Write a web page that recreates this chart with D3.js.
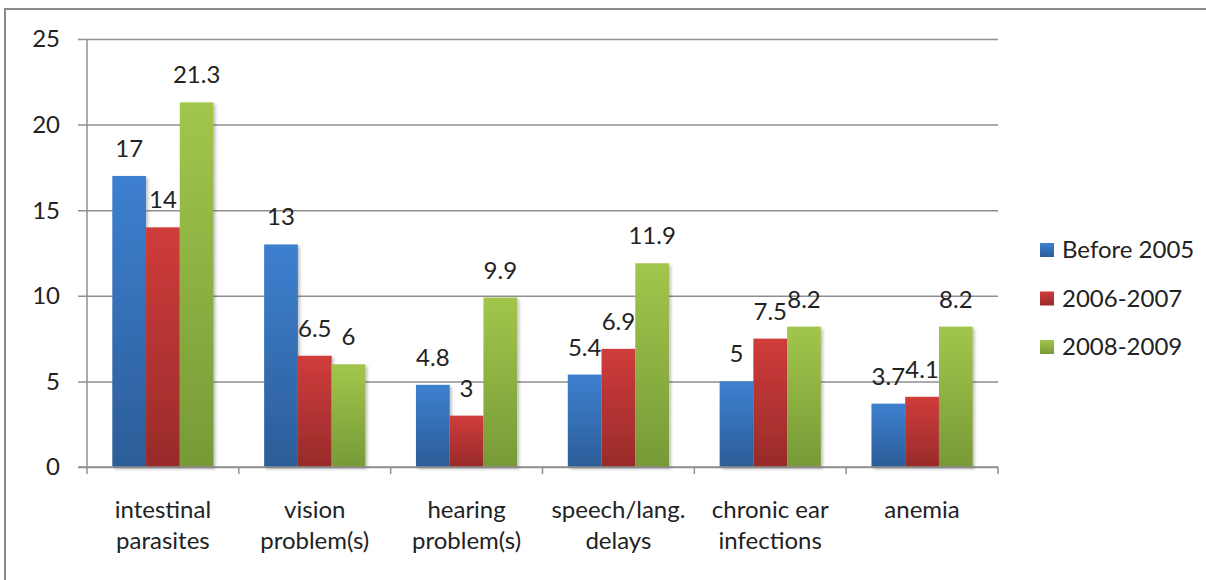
<!DOCTYPE html>
<html>
<head>
<meta charset="utf-8">
<script src="https://cdn.jsdelivr.net/npm/d3@7"></script>
<style>
  html, body { margin: 0; padding: 0; background: #fff; }
  svg { display: block; font-family: Lato, "Open Sans", sans-serif; }
</style>
</head>
<body>
<svg id="chart" width="1206" height="580"></svg>
<script>
// Health conditions by arrival period
const categories = [
  ["intestinal", "parasites"],
  ["vision", "problem(s)"],
  ["hearing", "problem(s)"],
  ["speech/lang.", "delays"],
  ["chronic ear", "infections"],
  ["anemia"]
];
const seriesNames = ["Before 2005", "2006-2007", "2008-2009"];
const before2005 = [17, 13, 4.8, 5.4, 5, 3.7];
const y2006_2007 = [14, 6.5, 3, 6.9, 7.5, 4.1];
const y2008_2009 = [21.3, 6, 9.9, 11.9, 8.2, 8.2];
const yTicks = [0, 5, 10, 15, 20, 25];

const seriesValues = [before2005, y2006_2007, y2008_2009];
const colorsTop = ["#3d80d0", "#d03c3b", "#a2c64c"];
const colorsBottom = ["#2c5d98", "#982b2a", "#779a37"];

const svg = d3.select("#chart");
const defs = svg.append("defs");

seriesNames.forEach((s, i) => {
  const g = defs.append("linearGradient")
    .attr("id", "grad" + i).attr("x1", 0).attr("y1", 0).attr("x2", 0).attr("y2", 1);
  g.append("stop").attr("offset", "0%").attr("stop-color", colorsTop[i]);
  g.append("stop").attr("offset", "100%").attr("stop-color", colorsBottom[i]);
});

const shadow = defs.append("filter").attr("id", "shadow")
  .attr("x", "-20%").attr("y", "-5%").attr("width", "150%").attr("height", "115%");
shadow.append("feDropShadow").attr("dx", 2).attr("dy", 2).attr("stdDeviation", 1.5)
  .attr("flood-color", "#000").attr("flood-opacity", 0.25);

// outer frame
svg.append("path")
  .attr("d", "M5,580 V9 H1206")
  .attr("fill", "none").attr("stroke", "#8a8a8a").attr("stroke-width", 2);

const plot = { left: 87, right: 998, top: 39, bottom: 467 };

const x = d3.scaleBand().domain(d3.range(categories.length))
  .range([plot.left, plot.right]).paddingInner(0).paddingOuter(0);
const x1 = d3.scaleBand().domain(d3.range(seriesNames.length))
  .range([0, x.bandwidth()]).paddingInner(0).paddingOuter(0.75);
const y = d3.scaleLinear().domain([0, 25]).range([plot.bottom, plot.top]);

const fontSize = 24;
const textColor = "#222";

// gridlines
const yAxis = d3.axisLeft(y).tickValues(yTicks).tickSize(9).tickFormat("");
const gy = svg.append("g").attr("transform", `translate(${plot.left},0)`).call(yAxis);
gy.select(".domain").remove();
gy.selectAll(".tick line").attr("stroke", "#8f8f8f").attr("stroke-width", 1.5)
  .attr("x2", plot.right - plot.left).attr("x1", -9);

// y tick labels
svg.append("g").selectAll("text").data(yTicks).join("text")
  .attr("x", 60).attr("y", d => y(d)).attr("dy", "0.35em")
  .attr("text-anchor", "end").attr("font-size", fontSize).attr("fill", textColor)
  .text(d => d);

// vertical axis line
svg.append("line").attr("x1", plot.left).attr("x2", plot.left)
  .attr("y1", plot.top).attr("y2", plot.bottom)
  .attr("stroke", "#8f8f8f").attr("stroke-width", 1.5);

// bars
const groups = svg.append("g").selectAll("g").data(categories).join("g")
  .attr("transform", (d, i) => `translate(${x(i)},0)`);

groups.selectAll("rect").data((d, i) => seriesValues.map((vals, s) => ({ s, v: vals[i] })))
  .join("rect")
  .attr("x", d => x1(d.s))
  .attr("y", d => y(d.v))
  .attr("width", x1.bandwidth())
  .attr("height", d => y(0) - y(d.v))
  .attr("fill", d => `url(#grad${d.s})`)
  .attr("filter", "url(#shadow)");

// baseline and category ticks
svg.append("line").attr("x1", plot.left - 9).attr("x2", plot.right)
  .attr("y1", plot.bottom).attr("y2", plot.bottom)
  .attr("stroke", "#8f8f8f").attr("stroke-width", 1.5);
svg.append("g").selectAll("line").data(d3.range(categories.length + 1)).join("line")
  .attr("x1", i => plot.left + i * x.step()).attr("x2", i => plot.left + i * x.step())
  .attr("y1", plot.bottom).attr("y2", plot.bottom + 7)
  .attr("stroke", "#8f8f8f").attr("stroke-width", 1.5);

// value labels
groups.selectAll("text.val").data((d, i) => seriesValues.map((vals, s) => ({ s, v: vals[i] })))
  .join("text").attr("class", "val")
  .attr("x", d => x1(d.s) + x1.bandwidth() / 2)
  .attr("y", d => y(d.v) - 19)
  .attr("text-anchor", "middle").attr("font-size", fontSize).attr("fill", textColor)
  .text(d => d.v);

// category labels
groups.append("text")
  .attr("x", x.bandwidth() / 2).attr("y", 518)
  .attr("text-anchor", "middle").attr("font-size", fontSize).attr("fill", textColor)
  .selectAll("tspan").data(d => d).join("tspan")
  .attr("x", x.bandwidth() / 2).attr("dy", (d, i) => i === 0 ? 0 : 31)
  .text(d => d);

// legend
const legend = svg.append("g").selectAll("g").data(seriesNames).join("g")
  .attr("transform", (d, i) => `translate(1040,${250 + i * 48.5})`);
legend.append("rect").attr("x", 0).attr("y", -7).attr("width", 14).attr("height", 14)
  .attr("fill", (d, i) => `url(#grad${i})`);
legend.append("text").attr("x", 22).attr("y", 0).attr("dy", "0.35em")
  .attr("font-size", fontSize).attr("fill", textColor).text(d => d);
</script>
</body>
</html>
